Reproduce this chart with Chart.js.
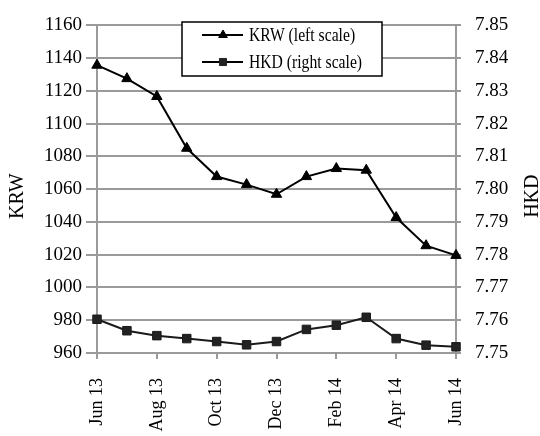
<!DOCTYPE html>
<html>
<head>
<meta charset="utf-8">
<script src="https://cdn.jsdelivr.net/npm/chart.js@4/dist/chart.umd.min.js"></script>
<style>
html,body{margin:0;padding:0;background:#fff;}
canvas{display:block;}
</style>
</head>
<body>
<canvas id="c" width="540" height="436"></canvas>
<script>
const months = ['Jun 13','Jul 13','Aug 13','Sep 13','Oct 13','Nov 13','Dec 13','Jan 14','Feb 14','Mar 14','Apr 14','May 14','Jun 14'];
const krw = [1135.7, 1127.5, 1116.6, 1085, 1067.7, 1062.8, 1056.9, 1067.7, 1072.6, 1071.6, 1042.7, 1025.5, 1019.6];
const hkd = [7.7603, 7.7568, 7.7553, 7.7544, 7.7535, 7.7525, 7.7535, 7.7572, 7.7585, 7.7609, 7.7544, 7.7524, 7.7519];
const krwLabel = 'KRW (left scale)';
const hkdLabel = 'HKD (right scale)';
const leftTitle = 'KRW';
const rightTitle = 'HKD';

const FONT = "'Liberation Serif', 'Times New Roman', serif";
const GRID = '#9a9a9a';

const extras = {
  id: 'extras',
  afterDraw(chart) {
    const ctx = chart.ctx;
    const ca = chart.chartArea;
    const midY = (ca.top + ca.bottom) / 2 + 7;
    ctx.save();
    ctx.fillStyle = '#000';
    ctx.font = '20px ' + FONT;
    ctx.textAlign = 'center';
    ctx.textBaseline = 'middle';
    ctx.translate(18, midY);
    ctx.rotate(-Math.PI / 2);
    ctx.fillText(leftTitle, 0, 0);
    ctx.restore();
    ctx.save();
    ctx.fillStyle = '#000';
    ctx.font = '20px ' + FONT;
    ctx.textAlign = 'center';
    ctx.textBaseline = 'middle';
    ctx.translate(533, midY);
    ctx.rotate(-Math.PI / 2);
    ctx.fillText(rightTitle, 0, 0);
    ctx.restore();

    // legend box
    const bx = 182, by = 22, bw = 200, bh = 54;
    ctx.save();
    ctx.fillStyle = '#fff';
    ctx.fillRect(bx, by, bw, bh);
    ctx.strokeStyle = '#000';
    ctx.lineWidth = 1.5;
    ctx.strokeRect(bx, by, bw, bh);
    const items = [
      {label: krwLabel, style: 'triangle', color: '#000', y: 35},
      {label: hkdLabel, style: 'rect', color: '#222', y: 62}
    ];
    items.forEach(it => {
      ctx.strokeStyle = '#000';
      ctx.lineWidth = 2;
      ctx.beginPath();
      ctx.moveTo(202, it.y);
      ctx.lineTo(243, it.y);
      ctx.stroke();
      ctx.fillStyle = it.color;
      ctx.strokeStyle = it.color;
      ctx.lineWidth = 1;
      Chart.helpers.drawPoint(ctx, {pointStyle: it.style, radius: 5, borderWidth: 1, rotation: 0}, 223, it.y);
      ctx.save();
      ctx.fillStyle = '#000';
      ctx.font = '18px ' + FONT;
      ctx.textAlign = 'left';
      ctx.textBaseline = 'middle';
      ctx.translate(249, it.y + 1);
      ctx.scale(0.87, 1);
      ctx.fillText(it.label, 0, 0);
      ctx.restore();
    });
    ctx.restore();
  }
};

new Chart(document.getElementById('c'), {
  type: 'line',
  data: {
    labels: months,
    datasets: [
      {
        label: krwLabel,
        data: krw,
        yAxisID: 'y',
        borderColor: '#000',
        backgroundColor: '#000',
        borderWidth: 2,
        pointStyle: 'triangle',
        pointRadius: 6,
        pointBorderWidth: 1,
        tension: 0
      },
      {
        label: hkdLabel,
        data: hkd,
        yAxisID: 'y1',
        borderColor: '#1a1a1a',
        backgroundColor: '#222',
        borderWidth: 2,
        pointStyle: 'rect',
        pointRadius: 6,
        pointBorderWidth: 1,
        tension: 0
      }
    ]
  },
  options: {
    responsive: false,
    devicePixelRatio: 1,
    animation: false,
    layout: {padding: {top: 15, left: 0, right: 0, bottom: 0}},
    plugins: {legend: {display: false}, tooltip: {enabled: false}},
    scales: {
      x: {
        offset: false,
        grid: {display: true, drawOnChartArea: false, drawTicks: true, tickLength: 6, color: GRID, lineWidth: 2},
        border: {display: true, color: GRID, width: 2},
        ticks: {
          autoSkip: false,
          maxRotation: 90,
          minRotation: 90,
          padding: 19,
          color: '#000',
          font: {family: FONT, size: 18},
          callback: function(v, i) { return i % 2 === 0 ? months[i] : null; }
        },
        afterFit(s) { s.height = 83; }
      },
      y: {
        position: 'left',
        min: 960,
        max: 1160,
        grid: {color: GRID, lineWidth: 2, tickLength: 11, drawTicks: true},
        border: {display: true, color: GRID, width: 2},
        ticks: {stepSize: 20, padding: 4, color: '#000', font: {family: FONT, size: 19},
          callback: v => String(v)},
        afterFit(s) { s.width = 97; }
      },
      y1: {
        position: 'right',
        min: 7.75,
        max: 7.85,
        grid: {drawOnChartArea: false, color: GRID, lineWidth: 2, tickLength: 5, drawTicks: true},
        border: {display: true, color: GRID, width: 2},
        ticks: {stepSize: 0.01, padding: 14, color: '#000', font: {family: FONT, size: 19},
          callback: v => Number(v).toFixed(2)},
        afterFit(s) { s.width = 84; }
      }
    }
  },
  plugins: [extras]
});
</script>
</body>
</html>
